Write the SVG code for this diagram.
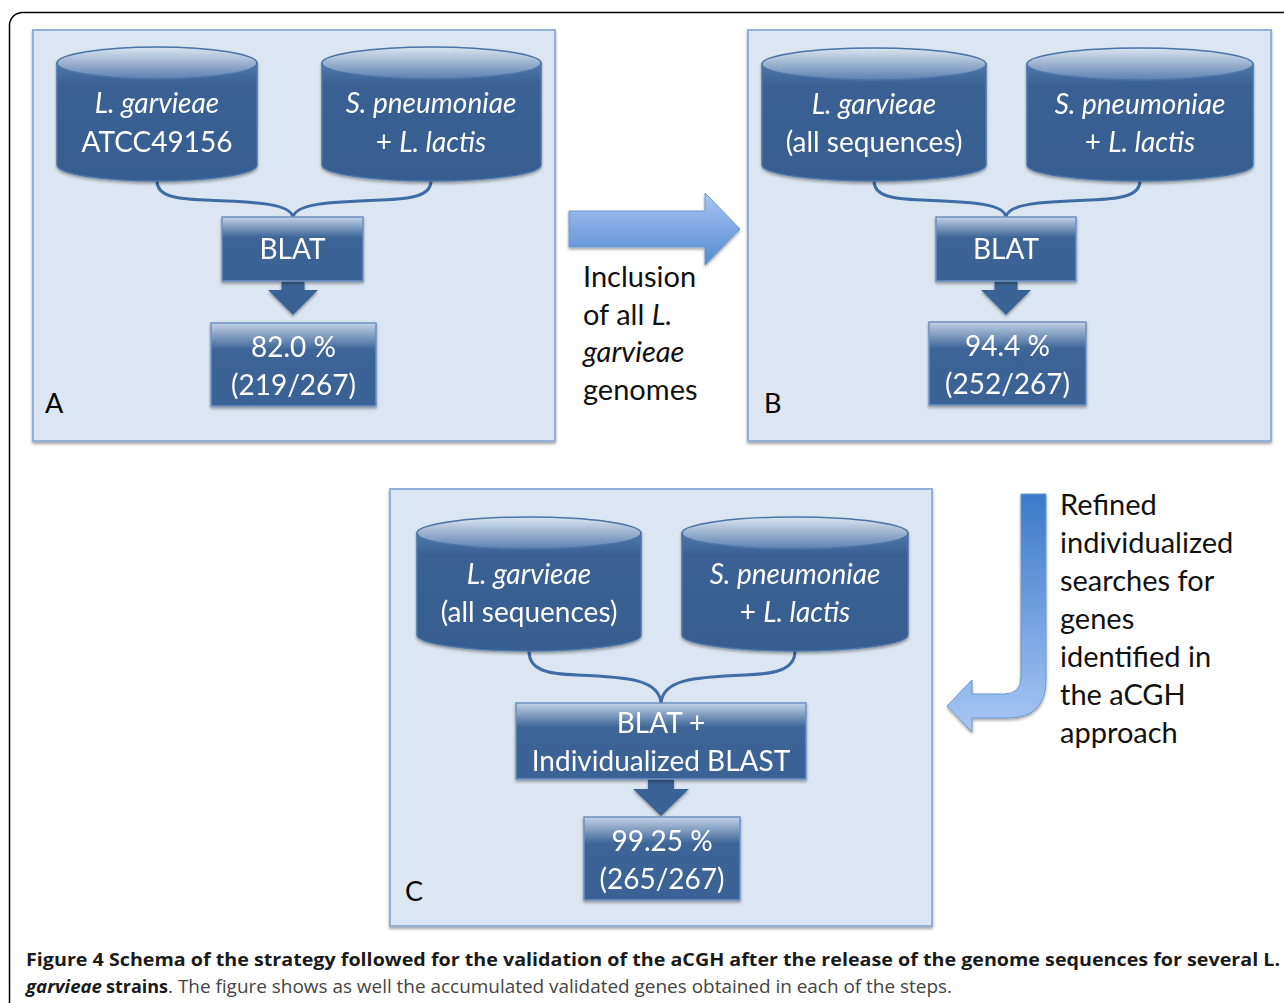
<svg xmlns="http://www.w3.org/2000/svg" width="1284" height="1003" viewBox="0 0 1284 1003">
<defs>
  <linearGradient id="gTop" x1="0" y1="0" x2="0" y2="1">
    <stop offset="0" stop-color="#dbe4f0"/>
    <stop offset="1" stop-color="#5a80b0"/>
  </linearGradient>
  <linearGradient id="gBody" x1="0" y1="0" x2="0" y2="1">
    <stop offset="0" stop-color="#4f79ab"/>
    <stop offset="0.18" stop-color="#3a6194"/>
    <stop offset="1" stop-color="#365d8f"/>
  </linearGradient>
  <linearGradient id="gBox" x1="0" y1="0" x2="0" y2="1">
    <stop offset="0" stop-color="#c3d2e7"/>
    <stop offset="0.32" stop-color="#3c6597"/>
    <stop offset="1" stop-color="#3a6294"/>
  </linearGradient>
  <linearGradient id="gRight" x1="0" y1="0" x2="0" y2="1">
    <stop offset="0" stop-color="#a9c6f0"/>
    <stop offset="1" stop-color="#5489d3"/>
  </linearGradient>
  <linearGradient id="gBent" x1="0" y1="0" x2="0" y2="1">
    <stop offset="0" stop-color="#3b79c9"/>
    <stop offset="1" stop-color="#a8c7f4"/>
  </linearGradient>
  <filter id="sh" x="-10%" y="-10%" width="120%" height="130%">
    <feDropShadow dx="0" dy="2" stdDeviation="1.6" flood-color="#000" flood-opacity="0.35"/>
  </filter>
</defs>
<style>
  .panel { fill: #dce6f2; stroke: #93b1d6; stroke-width: 2; }
  .cylbody { fill: url(#gBody); stroke: #4a74a7; stroke-width: 1.5; }
  .cyltop { fill: url(#gTop); stroke: #4a74a7; stroke-width: 1.5; }
  .box { fill: url(#gBox); stroke: #6c91c2; stroke-width: 1.5; }
  .darr { fill: #3a6294; }
  .conn { fill: none; stroke: #3f6ca5; stroke-width: 3; }
  .t { font-family: Lato, "Open Sans", sans-serif; font-size: 28px; fill: #ffffff; text-anchor: middle; }
  .i { font-style: italic; }
  .lbl { font-family: Lato, "Open Sans", sans-serif; font-size: 27px; fill: #000; }
  .side { font-family: Lato, "Open Sans", sans-serif; font-size: 29px; fill: #111; }
  .cap { font-family: "Open Sans", "Liberation Sans", sans-serif; font-size: 18px; }
</style>
<rect id="frame" x="9.5" y="12.5" width="1320" height="1020" rx="13" ry="13" fill="#fff" stroke="#000" stroke-width="1.5"/>

<g id="panelA">
  <rect class="panel" x="33" y="30" width="522" height="411" filter="url(#sh)"/>
  <text class="lbl" x="45" y="413">A</text>
</g>
<g id="panelB">
  <rect class="panel" x="748" y="30" width="523" height="411" filter="url(#sh)"/>
  <text class="lbl" x="764" y="413">B</text>
</g>
<g id="panelC">
  <rect class="panel" x="390" y="489" width="542" height="437" filter="url(#sh)"/>
  <text class="lbl" x="405" y="901">C</text>
</g>

<g id="connectors">
  <path class="conn" d="M157,181 C157,196 175,199 205,200 C260,202 290,204 293,217 C296,204 326,202 381,200 C411,199 431,196 431,181"/>
  <path class="conn" d="M874,181 C874,196 892,199 922,200 C975,202 1004,204 1006,217 C1008,204 1037,202 1090,200 C1120,199 1140,196 1140,181"/>
  <path class="conn" d="M529,651 C529,670 547,674 577,675 C630,677 659,680 661,703 C663,680 692,677 745,675 C775,674 795,670 795,651"/>
  <path class="darr" d="M281.5,281 L304.5,281 L304.5,290 L318,290 L293,315 L268,290 L281.5,290 Z" filter="url(#sh)"/>
  <path class="darr" d="M994.5,281 L1017.5,281 L1017.5,290 L1031,290 L1006,315 L981,290 L994.5,290 Z" filter="url(#sh)"/>
  <path class="darr" d="M648,779 L674,779 L674,789 L689,789 L661,816 L633,789 L648,789 Z" filter="url(#sh)"/>
  <path id="arrowRight" d="M569,211 L705,211 L705,193 L740,229 L705,265 L705,247 L569,247 Z" fill="url(#gRight)" stroke="#6b97d1" stroke-width="1" filter="url(#sh)"/>
  <path id="arrowBent" d="M1021,494 L1046,494 L1046,680 Q1046,718 1008,718 L972,718 L972,732 L947,706 L972,680 L972,694 L1004,694 Q1021,694 1021,677 Z" fill="url(#gBent)" stroke="#6b97d1" stroke-width="1" filter="url(#sh)"/>
</g>

<!-- Panel A nodes -->
<g id="A_db1" filter="url(#sh)">
  <path class="cylbody" d="M57,63 L57,165 A100,16 0 0 0 257,165 L257,63 Z"/>
  <ellipse class="cyltop" cx="157" cy="63" rx="100" ry="16"/>
  <text class="t i" x="157" y="113">L. garvieae</text>
  <text class="t" x="157" y="152">ATCC49156</text>
</g>
<g id="A_db2" filter="url(#sh)">
  <path class="cylbody" d="M322,63 L322,165 A109.5,16 0 0 0 541,165 L541,63 Z"/>
  <ellipse class="cyltop" cx="431.5" cy="63" rx="109.5" ry="16"/>
  <text class="t i" x="431" y="113">S. pneumoniae</text>
  <text class="t" x="431" y="152">+ <tspan class="i">L. lactis</tspan></text>
</g>
<g id="A_blat" filter="url(#sh)">
  <rect class="box" x="222" y="217" width="141" height="64"/>
  <text class="t" x="292.5" y="259">BLAT</text>
</g>
<g id="A_res" filter="url(#sh)">
  <rect class="box" x="211" y="323" width="165" height="83"/>
  <text class="t" x="293.5" y="357">82.0 %</text>
  <text class="t" x="293.5" y="395">(219/267)</text>
</g>

<!-- Panel B nodes -->
<g id="B_db1" filter="url(#sh)">
  <path class="cylbody" d="M762,64 L762,165 A112,16 0 0 0 986,165 L986,64 Z"/>
  <ellipse class="cyltop" cx="874" cy="64" rx="112" ry="16"/>
  <text class="t i" x="874" y="114">L. garvieae</text>
  <text class="t" x="874" y="152">(all sequences)</text>
</g>
<g id="B_db2" filter="url(#sh)">
  <path class="cylbody" d="M1027,64 L1027,165 A113,16 0 0 0 1253,165 L1253,64 Z"/>
  <ellipse class="cyltop" cx="1140" cy="64" rx="113" ry="16"/>
  <text class="t i" x="1140" y="114">S. pneumoniae</text>
  <text class="t" x="1140" y="152">+ <tspan class="i">L. lactis</tspan></text>
</g>
<g id="B_blat" filter="url(#sh)">
  <rect class="box" x="936" y="217" width="140" height="64"/>
  <text class="t" x="1006" y="259">BLAT</text>
</g>
<g id="B_res" filter="url(#sh)">
  <rect class="box" x="929" y="322" width="157" height="83"/>
  <text class="t" x="1007.5" y="356">94.4 %</text>
  <text class="t" x="1007.5" y="394">(252/267)</text>
</g>

<!-- Panel C nodes -->
<g id="C_db1" filter="url(#sh)">
  <path class="cylbody" d="M417,533 L417,635 A112,16 0 0 0 641,635 L641,533 Z"/>
  <ellipse class="cyltop" cx="529" cy="533" rx="112" ry="16"/>
  <text class="t i" x="529" y="584">L. garvieae</text>
  <text class="t" x="529" y="622">(all sequences)</text>
</g>
<g id="C_db2" filter="url(#sh)">
  <path class="cylbody" d="M682,533 L682,635 A113,16 0 0 0 908,635 L908,533 Z"/>
  <ellipse class="cyltop" cx="795" cy="533" rx="113" ry="16"/>
  <text class="t i" x="795" y="584">S. pneumoniae</text>
  <text class="t" x="795" y="622">+ <tspan class="i">L. lactis</tspan></text>
</g>
<g id="C_blat" filter="url(#sh)">
  <rect class="box" x="516" y="703" width="290" height="76"/>
  <text class="t" x="661" y="733">BLAT +</text>
  <text class="t" x="661" y="771">Individualized BLAST</text>
</g>
<g id="C_res" filter="url(#sh)">
  <rect class="box" x="584" y="817" width="156" height="83"/>
  <text class="t" x="662" y="851">99.25 %</text>
  <text class="t" x="662" y="889">(265/267)</text>
</g>

<g id="label_inclusion">
  <text class="side" x="583" y="287">Inclusion</text>
  <text class="side" x="583" y="325">of all <tspan font-style="italic">L.</tspan></text>
  <text class="side" x="583" y="362" font-style="italic">garvieae</text>
  <text class="side" x="583" y="400">genomes</text>
</g>
<g id="label_refined">
  <text class="side" x="1060" y="515">Refined</text>
  <text class="side" x="1060" y="553">individualized</text>
  <text class="side" x="1060" y="591">searches for</text>
  <text class="side" x="1060" y="629">genes</text>
  <text class="side" x="1060" y="667">identified in</text>
  <text class="side" x="1060" y="705">the aCGH</text>
  <text class="side" x="1060" y="743">approach</text>
</g>

<g id="caption">
  <text class="cap" x="26" y="966" font-weight="bold" fill="#1a1a1a" textLength="1254" lengthAdjust="spacingAndGlyphs">Figure 4 Schema of the strategy followed for the validation of the aCGH after the release of the genome sequences for several L.</text>
  <text class="cap" x="26" y="993" font-weight="bold" font-style="italic" fill="#1a1a1a" textLength="76" lengthAdjust="spacingAndGlyphs">garvieae</text>
  <text class="cap" x="106" y="993" font-weight="bold" fill="#1a1a1a" textLength="62" lengthAdjust="spacingAndGlyphs">strains</text>
  <text class="cap" x="168" y="993" fill="#444" textLength="784" lengthAdjust="spacingAndGlyphs">. The figure shows as well the accumulated validated genes obtained in each of the steps.</text>
</g>
</svg>
